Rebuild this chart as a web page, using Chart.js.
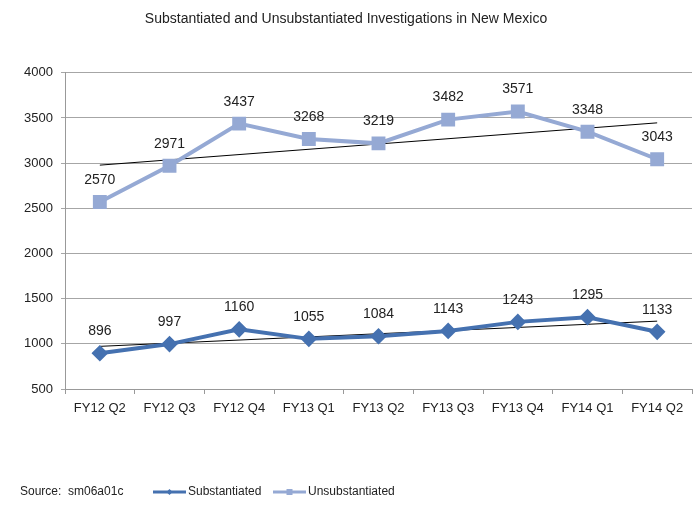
<!DOCTYPE html>
<html lang="en">
<head>
    <meta charset="UTF-8">
    <title>Substantiated and Unsubstantiated Investigations in New Mexico</title>
    <script src="https://cdn.jsdelivr.net/npm/chart.js"></script>
    <style>
        html, body { margin: 0; padding: 0; background: #fff; }
        #wrap { width: 693px; height: 505px; }
    </style>
</head>
<body>
    <div id="wrap"><canvas id="chart"></canvas></div>

    <script>
        const quarters = ['FY12 Q2', 'FY12 Q3', 'FY12 Q4', 'FY13 Q1', 'FY13 Q2', 'FY13 Q3', 'FY13 Q4', 'FY14 Q1', 'FY14 Q2'];
        const substantiated = [896, 997, 1160, 1055, 1084, 1143, 1243, 1295, 1133];
        const unsubstantiated = [2570, 2971, 3437, 3268, 3219, 3482, 3571, 3348, 3043];
        // trend line ends (first and last quarter)
        const substTrend = [972, null, null, null, null, null, null, null, 1251];
        const unsubTrend = [2978, null, null, null, null, null, null, null, 3446];
        const yTicks = [500, 1000, 1500, 2000, 2500, 3000, 3500, 4000];

        const FONT = "'Liberation Sans', Arial, sans-serif";
        const darkBlue = '#4571B0';
        const lightBlue = '#95A9D4';

        // value labels above the two main series
        const valueLabels = {
            id: 'valueLabels',
            afterDatasetsDraw(chart) {
                const ctx = chart.ctx;
                ctx.save();
                ctx.font = '14px ' + FONT;
                ctx.fillStyle = '#222';
                ctx.textAlign = 'center';
                ctx.textBaseline = 'middle';
                [0, 1].forEach(i => {
                    const meta = chart.getDatasetMeta(i);
                    meta.data.forEach((pt, j) => {
                        ctx.fillText(String(chart.data.datasets[i].data[j]), pt.x, pt.y - 22);
                    });
                });
                ctx.restore();
            }
        };

        // source note + legend along the bottom
        const bottomLegend = {
            id: 'bottomLegend',
            afterDraw(chart) {
                const ctx = chart.ctx;
                const y = 492;
                ctx.save();
                ctx.font = '12px ' + FONT;
                ctx.fillStyle = '#222';
                ctx.textBaseline = 'middle';
                ctx.textAlign = 'left';
                ctx.fillText('Source:  sm06a01c', 20, y);

                const items = [
                    { ds: chart.data.datasets[0], x: 153 },
                    { ds: chart.data.datasets[1], x: 273 }
                ];
                items.forEach(it => {
                    ctx.strokeStyle = it.ds.borderColor;
                    ctx.lineWidth = 3;
                    ctx.beginPath();
                    ctx.moveTo(it.x, y);
                    ctx.lineTo(it.x + 33, y);
                    ctx.stroke();
                    ctx.fillStyle = it.ds.borderColor;
                    const cx = it.x + 16.5;
                    if (it.ds.pointStyle === 'rectRot') {
                        ctx.beginPath();
                        ctx.moveTo(cx, y - 3);
                        ctx.lineTo(cx + 3, y);
                        ctx.lineTo(cx, y + 3);
                        ctx.lineTo(cx - 3, y);
                        ctx.closePath();
                        ctx.fill();
                    } else {
                        ctx.fillRect(cx - 3, y - 3, 6, 6);
                    }
                    ctx.fillStyle = '#222';
                    ctx.fillText(it.ds.label, it.x + 35, y);
                });
                ctx.restore();
            }
        };

        new Chart(document.getElementById('chart'), {
            type: 'line',
            data: {
                labels: quarters,
                datasets: [
                    {
                        label: 'Substantiated',
                        data: substantiated,
                        borderColor: darkBlue,
                        backgroundColor: darkBlue,
                        borderWidth: 4,
                        pointStyle: 'rectRot',
                        pointRadius: 5.5,
                        pointHoverRadius: 5.5,
                        tension: 0
                    },
                    {
                        label: 'Unsubstantiated',
                        data: unsubstantiated,
                        borderColor: lightBlue,
                        backgroundColor: lightBlue,
                        borderWidth: 4,
                        pointStyle: 'rect',
                        pointRadius: 7,
                        pointHoverRadius: 7,
                        tension: 0
                    },
                    {
                        label: 'Substantiated trend',
                        data: substTrend,
                        borderColor: '#000',
                        borderWidth: 1,
                        pointRadius: 0,
                        spanGaps: true
                    },
                    {
                        label: 'Unsubstantiated trend',
                        data: unsubTrend,
                        borderColor: '#000',
                        borderWidth: 1,
                        pointRadius: 0,
                        spanGaps: true
                    }
                ]
            },
            options: {
                responsive: true,
                maintainAspectRatio: false,
                animation: false,
                layout: { autoPadding: false, padding: { left: 0, right: 1, top: 0, bottom: 0 } },
                plugins: {
                    legend: { display: false },
                    tooltip: { enabled: false },
                    title: {
                        display: true,
                        text: 'Substantiated and Unsubstantiated Investigations in New Mexico',
                        color: '#222',
                        font: { family: FONT, size: 14, weight: 'normal' },
                        padding: { top: 11, bottom: 45 }
                    }
                },
                scales: {
                    x: {
                        offset: true,
                        grid: { display: true, offset: true, drawOnChartArea: false, drawTicks: true, tickLength: 5, color: '#999' },
                        border: { display: true, color: '#999' },
                        ticks: { color: '#222', font: { family: FONT, size: 13 }, padding: 7, maxRotation: 0 },
                        afterFit: s => { s.height = 116; }
                    },
                    y: {
                        min: 500,
                        max: 4000,
                        afterBuildTicks: s => { s.ticks = yTicks.map(v => ({ value: v })); },
                        grid: { color: '#a6a6a6', tickLength: 4 },
                        border: { display: true, color: '#999' },
                        ticks: { color: '#222', font: { family: FONT, size: 13 }, padding: 8, callback: v => String(v) },
                        afterFit: s => { s.width = 65; }
                    }
                }
            },
            plugins: [valueLabels, bottomLegend]
        });
    </script>
</body>
</html>
